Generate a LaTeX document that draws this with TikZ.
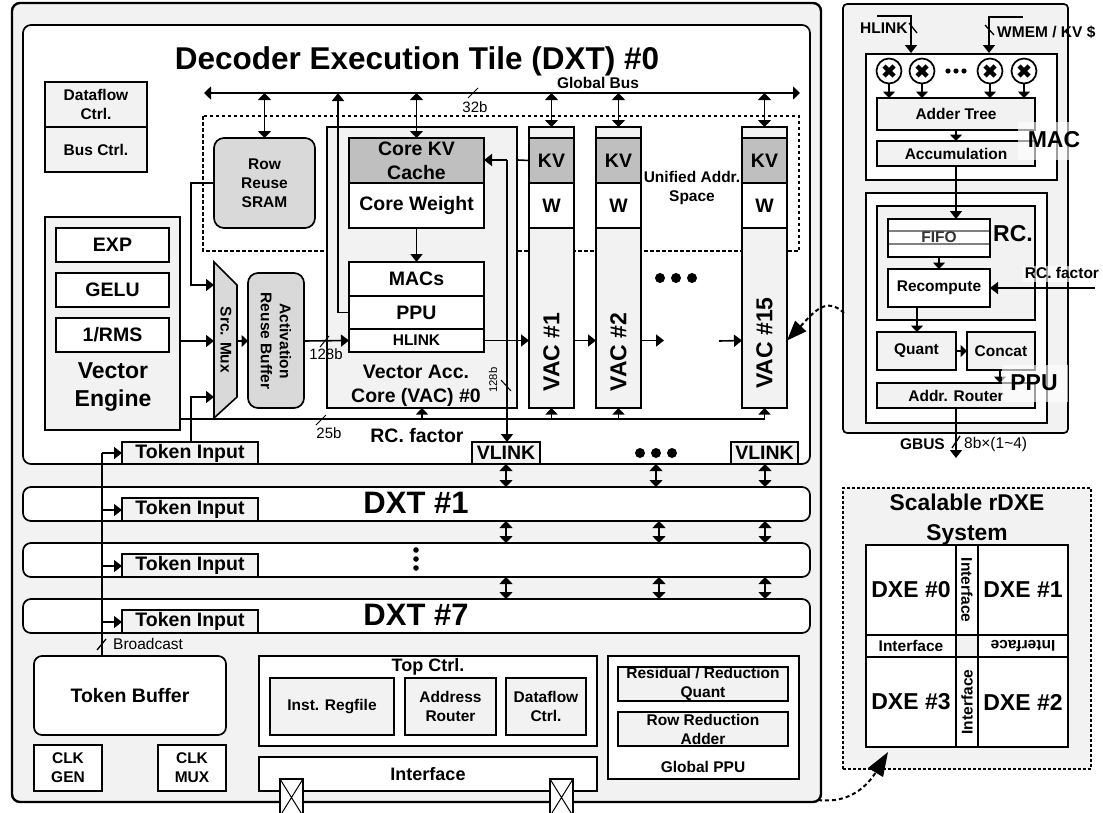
\documentclass[tikz,border=0pt]{standalone}
\usepackage{fontspec}
\setmainfont{Liberation Sans}
\usetikzlibrary{arrows.meta,calc}
\definecolor{lg}{HTML}{F2F2F2}
\definecolor{mg}{HTML}{D9D9D9}
\definecolor{dg}{HTML}{BFBFBF}
\tikzset{
  box/.style={draw=black,line width=1.7pt,inner sep=0pt,outer sep=0pt,align=center,font=\bfseries\fontsize{15.5}{19}\selectfont},
  wbox/.style={box,fill=white},
  gbox/.style={box,fill=lg},
  mbox/.style={box,fill=mg,rounded corners=10pt},
  kbox/.style={box,fill=dg},
  big/.style={font=\bfseries\fontsize{19.5}{24}\selectfont},
  lab/.style={inner sep=0pt,align=center,font=\bfseries\fontsize{15.5}{19}\selectfont},
  thin lab/.style={inner sep=0pt,align=center,font=\fontsize{15}{18}\selectfont},
  wire/.style={draw=black,line width=1.6pt},
  arr/.style={wire,-{Triangle[length=8pt,width=12pt]}},
  arrs/.style={wire,-{Triangle[length=6.5pt,width=12pt]}},
  dbl/.style={wire,{Triangle[length=7pt,width=13pt]}-{Triangle[length=7pt,width=13pt]}},
  slash/.style={draw=black,line width=1pt},
  bigdash/.style={draw=black,line width=2pt,dash pattern=on 4pt off 3pt,-{Triangle[length=20pt,width=15pt]}},
  patch/.style={fill=white,fill opacity=.62},
}
\newcommand{\bx}[7][wbox]{%
  \pgfmathsetmacro{\bw}{#5-#3}\pgfmathsetmacro{\bh}{#6-#4}%
  \node[#1,minimum width=\bw pt,minimum height=\bh pt,anchor=north west] (#2) at (#3,#4) {#7};}
\begin{document}
\begin{tikzpicture}[x=1pt,y=-1pt]
\useasboundingbox (0,0) rectangle (1103,812);
% ---------- outer frame
\bx[gbox,rounded corners=8pt,line width=2.4pt]{outer}{12}{3}{821}{802}{}
\bx[wbox,rounded corners=8pt]{dxt0}{23}{25}{810}{464}{}
\node[lab,font=\bfseries\fontsize{31.5}{36}\selectfont] (title) at (417,61) {Decoder Execution Tile (DXT) \#0};
% ---------- control box
\bx[gbox]{dfc}{45}{82}{147}{127}{Dataflow\\Ctrl.}
\bx[gbox]{busc}{45}{127}{147}{172}{Bus Ctrl.}
% ---------- unified space
\draw[black,line width=1.5pt,dash pattern=on 3.5pt off 2.5pt] (203,116) rectangle (799,251);
% ---------- global bus
\coordinate (gbl) at (204,93);
\coordinate (gbr) at (800,93);
\draw[dbl] (gbl) -- (gbr);
\node[lab] (gblab) at (598,83) {Global Bus};
\draw[slash] (468,98) -- (478,88);
\node[thin lab] (l32) at (475,107) {32b};
% ---------- SRAM, engine
\bx[mbox]{sram}{214}{138}{315}{228}{Row\\Reuse\\SRAM}
\bx[gbox]{ve}{45}{217}{180}{430}{}
\bx[wbox,big]{exp}{56}{228}{169}{262}{EXP}
\bx[wbox,big]{gelu}{56}{273}{169}{307}{GELU}
\bx[wbox,big]{rms}{56}{318}{169}{352}{1/RMS}
\node[lab,font=\bfseries\fontsize{23}{28.5}\selectfont] (vetxt) at (113,387) {Vector\\Engine};
% mux
\draw[wire,fill=mg] (214,262) -- (237,285) -- (237,397) -- (214,418) -- cycle;
\node[lab,rotate=-90] (mux) at (226,340) {Src. Mux};
\coordinate (muxa) at (214,285);
\coordinate (muxb) at (214,341);
\coordinate (muxc) at (214,397);
\coordinate (muxr) at (237,341);
\bx[mbox]{arb}{248}{273}{304}{408}{}
\node[lab,rotate=-90] (arbt) at (276,341) {Activation\\Reuse Buffer};
% ---------- VAC 0
\bx[gbox]{vac0}{327}{127}{517}{408}{}
\bx[kbox,big]{ckv}{349}{138}{484}{183}{Core KV\\Cache}
\bx[wbox,big]{cw}{349}{183}{484}{228}{Core Weight}
\bx[wbox,big]{macs}{349}{262}{484}{296}{MACs}
\bx[wbox,big]{ppu0}{349}{296}{484}{329}{PPU}
\bx[wbox]{hl0}{349}{329}{484}{352}{HLINK}
\node[lab,big] (vtxt) at (416,386) {Vector Acc.\\Core (VAC) \#0};
% ---------- VACs
\foreach \nm/\xa/\xb/\lbl/\ty in {1/529/574/VAC \#1/352,2/596/641/VAC \#2/352,15/742/787/VAC \#15/343}{
  \bx[gbox]{vac\nm}{\xa}{127}{\xb}{408}{}
  \bx[kbox,big]{kv\nm}{\xa}{138}{\xb}{183}{KV}
  \bx[wbox,big]{w\nm}{\xa}{183}{\xb}{228}{W}
  \node[lab,rotate=90,font=\bfseries\fontsize{23}{26}\selectfont] (vt\nm) at ({(\xa+\xb)/2},\ty) {\lbl};
}
\node[lab] (ua) at (692,188) {Unified Addr.\\Space};
\foreach \x in {660,676,692} \fill (\x,278) circle (5);
% ---------- token / vlink
\bx[gbox,big]{ti0}{122}{442}{258}{464}{Token Input}
\bx[gbox,big]{vl1}{472}{442}{540}{464}{VLINK}
\bx[gbox,big]{vl2}{731}{442}{798}{464}{VLINK}
\foreach \x in {640,656,672} \fill (\x,453) circle (5);
% ---------- connectors in DXT0
\draw[dbl] (sram.north) ++(0,0) coordinate (sn) -- (sn |- gbl);
\draw[dbl] (ckv.north) -- (ckv.north |- gbl);
\draw[dbl] (vac1.north) -- (vac1.north |- gbl);
\draw[dbl] (vac2.north) -- (vac2.north |- gbl);
\draw[dbl] (vac15.north) -- (vac15.north |- gbl);
\draw[arr] (ppu0.west) -- ++(-11,0) coordinate (pp) -- (pp |- gbl);
\draw[arr] (cw.south) -- (macs.north);
\draw[arr] (sram.west) -- ++(-23,0) |- (muxa);
\draw[arr] (ve.east |- muxb) -- (muxb);
\draw[arr] (ti0.north -| 191,442) -- (191,397) -- (muxc);
\draw[arrs] (muxr) -- (muxr -| arb.west);
\draw[arr] (arb.east |- muxr) -- (hl0.west);
\draw[slash] (320,347) -- (329,336);
\node[thin lab] (l128) at (326,354) {128b};
% rc factor bus
\coordinate (rcb) at (180,419);
\draw[wire] (rcb) -- (765,419) coordinate (rce);
\draw[arrs] (422,419) -- (422,408);
\draw[arrs] (vac1.south |- rce) -- (vac1.south);
\draw[arrs] (vac2.south |- rce) -- (vac2.south);
\draw[arrs] (vac15.south |- rce) -- (vac15.south);
\draw[slash] (316,425) -- (326,415);
\node[thin lab] (l25) at (329,433) {25b};
\node[lab,big] (rcf) at (417,436) {RC. factor};
% hlink chain
\draw[arr] (hl0.east) -- (vac1.west |- hl0.east);
\draw[arr] (vac1.east |- hl0.east) -- (vac2.west |- hl0.east);
\draw[arr] (vac2.east |- hl0.east) -- ++(23,0);
\draw[arr] (719,341) -- (vac15.west |- hl0.east);
% vlink
\coordinate (kvj) at (507,160);
\draw[arr] (kvj) -- (ckv.east |- kvj);
\draw[arr] (kvj) -- (kvj |- vl1.north);
\draw[wire] (kv1.west) -- (518,160);
\draw[slash] (501,380) -- (511,391);
\node[inner sep=0pt,font=\fontsize{11.3}{13}\selectfont,rotate=90] (l128b) at (493,380) {128b};
% ---------- DXT rows
\bx[wbox,rounded corners=8pt]{dxt1}{23}{487}{810}{521}{}
\bx[wbox,rounded corners=8pt]{dxtm}{23}{543}{810}{577}{}
\bx[wbox,rounded corners=8pt]{dxt7}{23}{599}{810}{633}{}
\node[lab,font=\bfseries\fontsize{31}{34}\selectfont] (t1) at (416,503) {DXT \#1};
\node[lab,font=\bfseries\fontsize{31}{34}\selectfont] (t7) at (416,615) {DXT \#7};
\foreach \y in {550,559,568} \fill (416,\y) circle (2.8);
\bx[gbox,big]{ti1}{122}{498}{258}{521}{Token Input}
\bx[gbox,big]{ti2}{122}{554}{258}{577}{Token Input}
\bx[gbox,big]{ti3}{122}{610}{258}{633}{Token Input}
% double arrows
\draw[dbl] (vl1.south -| 506,464) -- (506,487);
\draw[dbl] (506,521) -- (506,543);
\draw[dbl] (506,577) -- (506,599);
\draw[dbl] (656,464) -- (656,487);
\draw[dbl] (659,521) -- (659,543);
\draw[dbl] (659,577) -- (659,599);
\draw[dbl] (vl2.south -| 765,464) -- (765,487);
\draw[dbl] (765,521) -- (765,543);
\draw[dbl] (765,577) -- (765,599);
% ---------- bottom blocks
\bx[wbox,rounded corners=8pt,big]{tb}{34}{656}{226}{735}{Token Buffer}
\bx[wbox]{cg}{34}{745}{102}{791}{CLK\\GEN}
\bx[wbox]{cm}{158}{745}{226}{791}{CLK\\MUX}
\bx[wbox]{top}{259}{656}{597}{746}{}
\node[lab,font=\bfseries\fontsize{18}{20}\selectfont] (toptxt) at (428,667) {Top Ctrl.};
\bx[gbox]{inst}{270}{678}{394}{735}{Inst. Regfile}
\bx[gbox]{addr}{405}{678}{496}{735}{Address\\Router}
\bx[gbox]{dfc2}{506}{678}{586}{735}{Dataflow\\Ctrl.}
\bx[wbox,font=\bfseries\fontsize{18}{20}\selectfont]{ifc}{259}{757}{597}{791}{Interface}
\foreach \n/\x in {a/280,b/550}{
  \bx[wbox]{pad\n}{\x}{779}{\x+23}{816}{}
  \draw[line width=1pt] (pad\n.north west) -- (pad\n.south east) (pad\n.north east) -- (pad\n.south west);
}
\bx[wbox]{gp}{608}{656}{799}{779}{}
\bx[gbox]{rq}{618}{667}{788}{701}{Residual / Reduction\\Quant}
\bx[gbox]{ra}{618}{712}{788}{746}{Row Reduction\\Adder}
\node[lab] (gptxt) at (703,767) {Global PPU};
% token bus
\coordinate (tbj) at (102,453);
\draw[wire] (tb.north -| tbj) -- (tbj);
\draw[arr] (tbj) -- (ti0.west |- tbj);
\draw[arr] (102,510) -- (ti1.west |- 102,510);
\draw[arr] (102,566) -- (ti2.west |- 102,566);
\draw[arr] (102,622) -- (ti3.west |- 102,622);
\draw[slash,line width=1.3pt] (97,650) -- (106,639);
\node[inner sep=0pt,font=\fontsize{15.5}{18}\selectfont,anchor=west] (bc) at (113,644) {Broadcast};
% ---------- right panel
\bx[gbox,rounded corners=4pt]{panel}{843}{4}{1068}{433}{}
\bx[wbox]{macbox}{866}{54}{1057}{180}{}
\bx[gbox]{adder}{877}{98}{1035}{130}{Adder Tree}
\bx[gbox]{acc}{877}{141}{1035}{166}{Accumulation}
\foreach \n/\x in {1/889,2/922,3/990,4/1024}{
  \node[circle,draw=black,line width=1.7pt,fill=white,minimum size=25pt,inner sep=0pt] (m\n) at (\x,71) {};
  \draw[line width=4.4pt] (\x-5,66) -- (\x+5,76) (\x-5,76) -- (\x+5,66);
  \draw[arrs] (m\n.south) -- (m\n.south |- adder.north);
}
\foreach \x in {948,956,964} \fill (\x,71) circle (2.6);
\draw[arrs] (adder.south -| 956,130) -- (956,141);
\coordinate (hlstart) at (877,16);
\coordinate (wmstart) at (1023,17);
\draw[arr] (hlstart) -- (911,16) -- (911,53);
\draw[arr] (wmstart) -- (989,17) -- (989,53);
\draw[slash,line width=1.3pt] (909,23) -- (917,33);
\draw[slash,line width=1.3pt] (985,25) -- (994,35);
\node[lab,anchor=west] (hltxt) at (860,28) {HLINK};
\node[lab,anchor=west] (wmtxt) at (997,32) {WMEM / KV \$};
\bx[wbox]{ppubox}{866}{193}{1047}{423}{}
\bx[gbox]{rcbox}{877}{206}{1035}{320}{}
\bx[wbox]{fifo}{888}{219}{990}{257}{}
\draw[line width=1.2pt,gray] (889,231) -- (989,231) (889,244) -- (989,244);
\node[lab,text=black!80] (fifot) at (939,237) {FIFO};
\bx[wbox]{recomp}{888}{269}{990}{307}{Recompute}
\bx[gbox]{quant}{877}{332}{956}{370}{Quant}
\bx[gbox]{concat}{967}{332}{1035}{370}{Concat}
\bx[gbox]{router}{877}{383}{1035}{408}{Addr. Router}
\draw[arr] (acc.south -| 956,166) -- (956,219);
\draw[arrs] (fifo.south) -- (recomp.north);
\draw[arrs] (917,307) -- (917,332);
\draw[arrs] (quant.east) -- (concat.west);
\draw[arrs] (1000,370) -- (1000,383);
\coordinate (rcfin) at (1095,288);
\draw[arr] (rcfin) -- (recomp.east |- rcfin);
\coordinate (gbusend) at (956,458);
\draw[arr] (router.south -| gbusend) -- (gbusend);
\draw[slash,line width=1.3pt] (952,448) -- (960,436);
\node[lab,anchor=east] (gbt) at (945,444) {GBUS};
\node[inner sep=0pt,font=\fontsize{15.5}{18}\selectfont,anchor=west] (gbw) at (964,444) {8b×(1\textasciitilde4)};
% patches + overlaid labels
\fill[patch] (1018,122) rectangle (1070,160);
\node[lab,font=\bfseries\fontsize{23}{26}\selectfont] (mact) at (1054,140) {MAC};
\fill[patch] (1002,365) rectangle (1068,402);
\node[lab,font=\bfseries\fontsize{23}{26}\selectfont] (ppt) at (1034,383) {PPU};
\node[lab,font=\bfseries\fontsize{23}{26}\selectfont] (rct) at (1013,234) {RC.};
\fill[patch] (1023,266) rectangle (1100,282);
\node[lab] (rcft) at (1062,273) {RC. factor};
% ---------- scalable system
\bx[gbox,dash pattern=on 3pt off 2pt]{sys}{843}{488}{1091}{769}{}
\node[lab,font=\bfseries\fontsize{22.8}{30}\selectfont] (syst) at (967,520) {Scalable rDXE\\System};
\bx[wbox]{i1}{956}{545}{978}{635}{}
\bx[wbox]{i3}{956}{657}{978}{747}{}
\bx[wbox]{i4}{866}{635}{956}{657}{Interface}
\bx[wbox]{i2}{978}{635}{1068}{657}{\rotatebox{180}{Interface}}
\bx[gbox]{ic}{956}{635}{978}{657}{}
\bx[wbox,font=\bfseries\fontsize{23}{26}\selectfont]{d0}{866}{545}{956}{635}{DXE \#0}
\bx[wbox,font=\bfseries\fontsize{23}{26}\selectfont]{d1}{978}{545}{1068}{635}{DXE \#1}
\bx[wbox,font=\bfseries\fontsize{23}{26}\selectfont]{d3}{866}{657}{956}{747}{DXE \#3}
\bx[wbox,font=\bfseries\fontsize{23}{26}\selectfont]{d2}{978}{657}{1068}{747}{DXE \#2}
\node[lab,rotate=-90] (i1t) at (i1) {Interface};
\node[lab,rotate=90] (i3t) at (i3) {Interface};
% ---------- dashed zoom arrows
\coordinate (za) at (844,313);
\draw[bigdash] (za) .. controls (826,296) and (814,312) .. (vac15.east |- hl0.east);
\coordinate (zb) at (818,800);
\coordinate (zc) at (888,752);
\draw[bigdash,-{Triangle[length=24pt,width=17pt]}] (zb) .. controls (850,804) and (868,785) .. (zc);
\end{tikzpicture}
\end{document}
